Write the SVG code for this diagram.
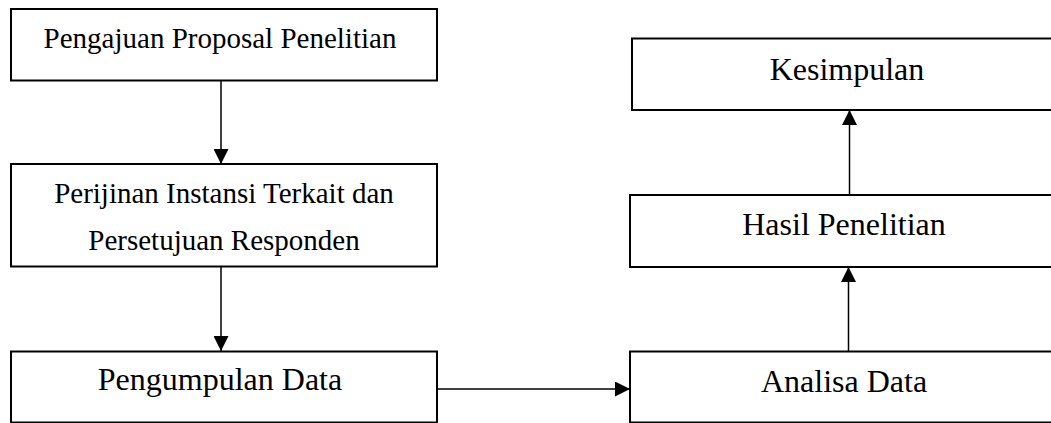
<svg xmlns="http://www.w3.org/2000/svg" width="1051" height="423" viewBox="0 0 1051 423">
<style>
.box{fill:#fff;stroke:#000;stroke-width:2}
.t{font-family:"Liberation Serif","Times New Roman",serif;fill:#000;text-anchor:middle}
.s{font-size:29px}
.l{font-size:32px}
.c{stroke:#000;stroke-width:1.5;fill:none}
</style>
<defs>
<marker id="ah" markerWidth="15" markerHeight="15" refX="15" refY="7.5" orient="auto" markerUnits="userSpaceOnUse">
<path d="M0,0 L15,7.5 L0,15 Z" fill="#000"/>
</marker>
</defs>
<g id="n1"><rect class="box" x="11" y="9" width="426" height="71.5"/><text class="t s" x="220" y="48">Pengajuan Proposal Penelitian</text></g>
<g id="n2"><rect class="box" x="11" y="164" width="426" height="102.5"/><text class="t s" x="224" y="203">Perijinan Instansi Terkait dan</text><text class="t s" x="224" y="250">Persetujuan Responden</text></g>
<g id="n3"><rect class="box" x="11" y="351.5" width="426" height="71"/><text class="t l" x="220" y="390">Pengumpulan Data</text></g>
<g id="n4"><rect class="box" x="630" y="351.5" width="430" height="71"/><text class="t l" x="844" y="392">Analisa Data</text></g>
<g id="n5"><rect class="box" x="630" y="195" width="430" height="72"/><text class="t l" x="844" y="235">Hasil Penelitian</text></g>
<g id="n6"><rect class="box" x="632" y="38.5" width="430" height="71.5"/><text class="t l" x="847" y="80">Kesimpulan</text></g>
<g id="connectors">
<line class="c" x1="221" y1="81" x2="221" y2="164" marker-end="url(#ah)"/>
<line class="c" x1="221" y1="267" x2="221" y2="351" marker-end="url(#ah)"/>
<line class="c" x1="437" y1="389" x2="630" y2="389" marker-end="url(#ah)"/>
<line class="c" x1="848.5" y1="351" x2="848.5" y2="267" marker-end="url(#ah)"/>
<line class="c" x1="849.5" y1="195" x2="849.5" y2="110" marker-end="url(#ah)"/>
</g>
</svg>
